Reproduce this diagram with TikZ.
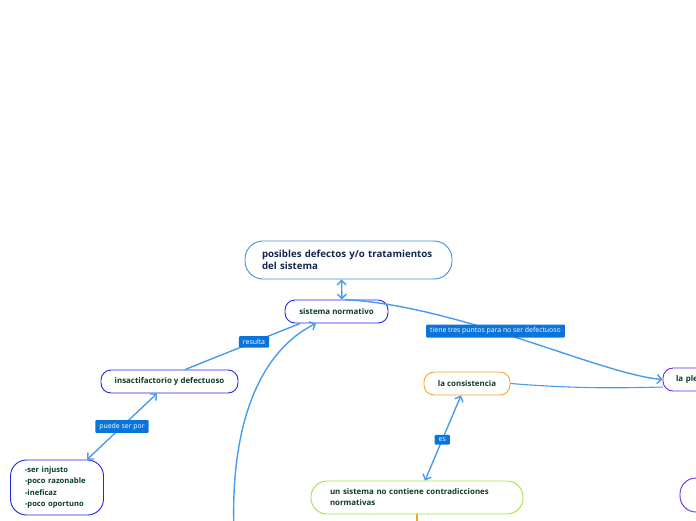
\documentclass[tikz,border=0pt]{standalone}
\usepackage{fontspec}
\setmainfont{Open Sans}
\usetikzlibrary{arrows.meta}
\definecolor{linecol}{HTML}{4A9BEA}
\definecolor{tagcol}{HTML}{0A74DA}
\definecolor{titleline}{HTML}{3F8FE0}
\definecolor{titletext}{HTML}{152650}
\definecolor{topicline}{HTML}{2424EE}
\definecolor{topictext}{HTML}{0E3B2E}
\definecolor{orangeline}{HTML}{F5A623}
\definecolor{greenline}{HTML}{9BE83A}
\definecolor{purpleline}{HTML}{6A2BEE}
\begin{document}
\begin{tikzpicture}[x=1pt, y=-1pt,
  topic/.style={draw=topicline, line width=0.9pt, fill=white, rounded corners=10pt,
    minimum height=23pt, inner sep=0pt, text=topictext, font=\fontsize{7.9}{9}\selectfont\bfseries},
  tag/.style={fill=tagcol, text=white, rounded corners=1pt, inner xsep=4pt, inner ysep=3pt,
    font=\fontsize{6.9}{7}\selectfont},
  link/.style={draw=linecol, line width=1.4pt},
  tip/.style={-{Straight Barb[length=4.5pt,width=9pt]}},
  tips/.style={{Straight Barb[length=4.5pt,width=9pt]}-{Straight Barb[length=4.5pt,width=9pt]}}]
\useasboundingbox (0,0) rectangle (696,520);
\clip (0,0) rectangle (696,520);
% nodes
\node[topic, draw=titleline, text=titletext, minimum width=207pt, minimum height=38pt,
  rounded corners=18pt, text width=173pt, align=left, font=\fontsize{9.7}{12}\selectfont\bfseries]
  (titulo) at (348.5,260) {posibles defectos y/o tratamientos\\del sistema};
\node[topic, minimum width=103pt] (sistema) at (336.5,311.5) {sistema normativo};
\node[topic, minimum width=137pt] (insac) at (169.5,381.5) {insactifactorio y defectuoso};
\node[topic, minimum width=93pt, minimum height=55pt, rounded corners=16pt, text width=64pt, align=left,
  font=\fontsize{7.6}{11.2}\selectfont\bfseries] (causas) at (57,487.5)
  {-ser injusto\\-poco razonable\\-ineficaz\\-poco oportuno};
\node[topic, draw=orangeline, minimum width=86pt] (consis) at (467,383.5) {la consistencia};
\node[topic, draw=purpleline, minimum width=90pt, text width=64pt, align=left] (plenitud) at (708,379.5) {la plenitud};
\node[topic, draw=greenline, minimum width=212pt, minimum height=33pt, rounded corners=16pt,
  text width=174pt, align=left, font=\fontsize{7.9}{11}\selectfont\bfseries] (contradic) at (417,497.5)
  {un sistema no contiene contradicciones\\normativas};
\node[topic, draw=purpleline, minimum width=100pt, minimum height=34pt, rounded corners=16pt] (otro) at (730,495) {};
% connectors
\draw[link, tips] (titulo.south -| 341.5,0) -- (sistema.north -| 342,0);
\draw[link] (insac.north -| 185,0) -- (sistema.south -| 300,0)
  node[tag, pos=0.6] (resulta) {resulta};
\draw[link, tip] (sistema.north -| 345,0) .. controls (460,306) and (600,374) .. (plenitud.west)
  node[tag, pos=0.42] (tres) {tiene tres puntos para no ser defectuoso};
\draw[link, tips] (insac.south -| 157,0) -- (causas.north -| 87,0) node[tag, midway] (puede) {puede ser por};
\draw[link, tips] (consis.south -| 461,0) -- (contradic.north -| 425,0) node[tag, pos=0.52] (es) {es};
\draw[link, line width=1.1pt] (consis.east) .. controls (580,389) and (620,388) .. (plenitud.west |- 0,387);
\coordinate (abajo) at (234,530);
\draw[link, tip] (abajo) .. controls (230,420) and (262,350) .. (sistema.south -| 316,0);
\coordinate (abajo2) at (417,530);
\draw[draw=orangeline, line width=1.4pt] (contradic.south) -- (abajo2);
\end{tikzpicture}
\end{document}
